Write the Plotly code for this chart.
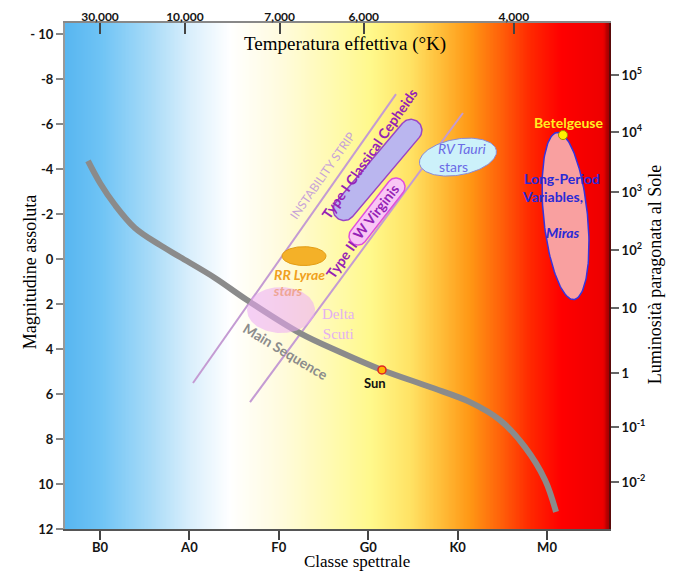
import numpy as np
import plotly.graph_objects as go

# ---------------- data ----------------
SPECTRAL_CLASSES = ["B0", "A0", "F0", "G0", "K0", "M0"]
SPECTRAL_POS = [0, 1, 2, 3, 4, 5]

TEMP_LABELS = ["30,000", "10,000", "7,000", "6,000", "4,000"]
TEMP_POS = [0.0, 0.95, 2.01, 2.95, 4.63]

MAG_TICKS = [-10, -8, -6, -4, -2, 0, 2, 4, 6, 8, 10, 12]
MAG_LABELS = ["- 10", "-8", "-6", "-4", "-2", "0", "2", "4", "6", "8", "10", "12"]

LUM_LABELS = ["10<sup>5</sup>", "10<sup>4</sup>", "10<sup>3</sup>", "10<sup>2</sup>",
              "10", "1", "10<sup>-1</sup>", "10<sup>-2</sup>"]
LUM_MAG = [-8.18, -5.64, -2.98, -0.40, 2.18, 5.07, 7.47, 9.91]

# main sequence (spectral position, absolute magnitude)
MS_SPEC = [-0.134, 0.0, 0.168, 0.391, 0.671, 0.895, 1.286, 1.644, 2.237, 2.685,
           3.154, 3.691, 4.139, 4.474, 4.754, 4.978, 5.101]
MS_MAG = [-4.36, -3.38, -2.40, -1.38, -0.62, -0.09, 0.84, 1.82, 3.29, 4.13,
          4.93, 5.69, 6.36, 7.16, 8.36, 9.82, 11.24]

# instability strip edges
STRIP_LEFT_SPEC = [1.040, 3.311]
STRIP_LEFT_MAG = [5.51, -7.33]
STRIP_RIGHT_SPEC = [1.678, 4.060]
STRIP_RIGHT_MAG = [6.36, -6.49]

# stars
SUN = (3.154, 4.93)
BETELGEUSE = (5.179, -5.51)

# regions: ellipses (centre spec, centre mag, half-width spec, half-height mag)
RRLYR = (2.282, -0.13, 0.246, 0.42)
DSCT = (2.025, 2.27, 0.380, 1.02)
RVTAU = (4.004, -4.53, 0.436, 0.80)
LPV = (5.207, -1.91, 0.246, 3.73)
# capsules (end points spec/mag)
CEPH_SPEC = [2.730, 3.478]
CEPH_MAG = [-2.20, -5.72]
WVIR_SPEC = [2.886, 3.311]
WVIR_MAG = [-1.02, -3.20]

# labels
LABEL_TEXT = ["INSTABILITY STRIP", "Type I Classical Cepheids", "Type II", "W Virginis",
              "RR Lyrae", "Delta<br>Scuti", "Main Sequence", "Sun", "RV Tauri", "stars",
              "Betelgeuse", "Long-Period", "Variables,", "Miras"]
LABEL_SPEC = [2.489, 3.015, 2.696, 3.087, 2.226, 2.673, 2.081, 3.076, 4.060, 3.949,
              5.235, 5.168, 5.056, 5.179]
LABEL_MAG = [-3.71, -4.68, 0.00, -2.09, 0.71, 2.89, 4.09, 5.51, -4.89, -4.09,
             -6.09, -3.56, -2.76, -1.16]
RR_STARS = ("stars", 2.103, 1.51)

# background colour stops along spectral axis
BG_V = [-0.3915, 0.0, 0.56, 1.01, 1.45, 2.01, 2.57, 3.02, 3.47, 3.80, 4.14, 4.47, 4.81, 5.15, 5.62, 5.6935]
BG_COL = ["rgb(88,182,240)", "rgb(110,195,245)", "rgb(168,219,248)", "rgb(218,239,252)",
          "rgb(255,255,255)", "rgb(255,251,222)", "rgb(255,250,178)", "rgb(255,249,140)",
          "rgb(255,226,100)", "rgb(255,190,58)", "rgb(255,150,20)", "rgb(255,98,10)",
          "rgb(255,40,0)", "rgb(255,0,0)", "rgb(238,0,0)", "rgb(150,0,0)"]

# ---------------- layout constants ----------------
# (page body adds an 8 px margin before the figure)
W, H = 666, 566
ML, MR, MT, MB = 57, 65, 15, 45
X_RANGE = [-0.3915, 5.6935]
Y_RANGE = [12.0, -10.49]
PW, PH = W - ML - MR, H - MT - MB
SX = PW / (X_RANGE[1] - X_RANGE[0])
SY = PH / (Y_RANGE[0] - Y_RANGE[1])

FONT = "Lato, 'Open Sans', sans-serif"
SERIF = "'Liberation Serif', 'DejaVu Serif', serif"


def ellipse(c, ang=0.0, n=140):
    cv, cm, av, bm = c
    t = np.linspace(0, 2 * np.pi, n)
    dx, dy = av * SX * np.cos(t), bm * SY * np.sin(t)
    th = np.radians(ang)
    X = dx * np.cos(th) + dy * np.sin(th)
    Y = -dx * np.sin(th) + dy * np.cos(th)
    return cv + X / SX, cm + Y / SY


def capsule(vs, ms, r):
    X1, Y1 = vs[0] * SX, ms[0] * SY
    X2, Y2 = vs[1] * SX, ms[1] * SY
    a = np.arctan2(Y2 - Y1, X2 - X1)
    t1 = np.linspace(a - np.pi / 2, a + np.pi / 2, 40)
    t2 = np.linspace(a + np.pi / 2, a + 3 * np.pi / 2, 40)
    X = np.concatenate([X2 + r * np.cos(t1), X1 + r * np.cos(t2), [X2 + r * np.cos(t1[0])]])
    Y = np.concatenate([Y2 + r * np.sin(t1), Y1 + r * np.sin(t2), [Y2 + r * np.sin(t1[0])]])
    return X / SX, Y / SY


fig = go.Figure()

# background gradient
bg_x = np.linspace(X_RANGE[0], X_RANGE[1], 400)
cscale = [[(v - BG_V[0]) / (BG_V[-1] - BG_V[0]), c] for v, c in zip(BG_V, BG_COL)]
fig.add_trace(go.Heatmap(x=bg_x, y=[Y_RANGE[1] - 0.5, Y_RANGE[0] + 0.5], z=[bg_x, bg_x],
                         colorscale=cscale, zmin=BG_V[0], zmax=BG_V[-1], showscale=False,
                         hoverinfo="skip", zsmooth="best"))

# instability strip
for xs, ys in [(STRIP_LEFT_SPEC, STRIP_LEFT_MAG), (STRIP_RIGHT_SPEC, STRIP_RIGHT_MAG)]:
    fig.add_trace(go.Scatter(x=xs, y=ys, mode="lines", line=dict(color="#c49bd3", width=2),
                             hoverinfo="skip", showlegend=False))

# main sequence
fig.add_trace(go.Scatter(x=MS_SPEC, y=MS_MAG, mode="lines", line=dict(color="#8b8b8b", width=6, shape="spline"),
                         hoverinfo="skip", showlegend=False))

# RR Lyrae
ex, ey = ellipse(RRLYR)
fig.add_trace(go.Scatter(x=ex, y=ey, mode="lines", fill="toself", fillcolor="#f4b128",
                         line=dict(color="#e39c12", width=1), hoverinfo="skip", showlegend=False))
fig.add_trace(go.Scatter(x=[RR_STARS[1]], y=[RR_STARS[2]], mode="text", text=[RR_STARS[0]],
                         textfont=dict(family=FONT, size=14, color="#f0a020", weight="bold", style="italic"),
                         hoverinfo="skip", showlegend=False))
# Delta Scuti (translucent)
ex, ey = ellipse(DSCT)
fig.add_trace(go.Scatter(x=ex, y=ey, mode="lines", fill="toself", fillcolor="rgba(236,170,246,0.55)",
                         line=dict(width=0), hoverinfo="skip", showlegend=False))

# Cepheid / W Virginis capsules
cx, cy = capsule(CEPH_SPEC, CEPH_MAG, 11)
fig.add_trace(go.Scatter(x=cx, y=cy, mode="lines", fill="toself", fillcolor="#bab6ef",
                         line=dict(color="#9a45c6", width=1.5), hoverinfo="skip", showlegend=False))
cx, cy = capsule(WVIR_SPEC, WVIR_MAG, 9)
fig.add_trace(go.Scatter(x=cx, y=cy, mode="lines", fill="toself", fillcolor="#f9c6f5",
                         line=dict(color="#e04ede", width=1.5), hoverinfo="skip", showlegend=False))

# RV Tauri
ex, ey = ellipse(RVTAU, 10)
fig.add_trace(go.Scatter(x=ex, y=ey, mode="lines", fill="toself", fillcolor="#ccf1fa",
                         line=dict(color="#8a8ad8", width=1), hoverinfo="skip", showlegend=False))

# Long period variables
ex, ey = ellipse(LPV, 5.8)
fig.add_trace(go.Scatter(x=ex, y=ey, mode="lines", fill="toself", fillcolor="#f9a0a0",
                         line=dict(color="#3434e0", width=1.5), hoverinfo="skip", showlegend=False))

# Sun & Betelgeuse
fig.add_trace(go.Scatter(x=[SUN[0]], y=[SUN[1]], mode="markers",
                         marker=dict(size=8, color="#ffb400", line=dict(color="#e02424", width=1.5)),
                         hoverinfo="skip", showlegend=False))
fig.add_trace(go.Scatter(x=[BETELGEUSE[0]], y=[BETELGEUSE[1]], mode="markers",
                         marker=dict(size=9, color="#fff200", line=dict(color="#a09000", width=1)),
                         hoverinfo="skip", showlegend=False))

# invisible trace for secondary axes
fig.add_trace(go.Scatter(x=[X_RANGE[0]], y=[0], xaxis="x2", yaxis="y2", mode="markers",
                         marker=dict(opacity=0), hoverinfo="skip", showlegend=False))

# labels
LABEL_STYLE = [
    dict(angle=-55, color="#c7a2d8", size=12, weight="normal", style="normal", family=FONT),
    dict(angle=-55, color="#9522b5", size=14, weight="bold", style="normal", family=FONT),
    dict(angle=-55, color="#9522b5", size=14, weight="bold", style="normal", family=FONT),
    dict(angle=-52, color="#9522b5", size=14, weight="bold", style="normal", family=FONT),
    dict(angle=0, color="#f0a020", size=14, weight="bold", style="italic", family=FONT),
    dict(angle=0, color="#e4b0f2", size=15, weight="normal", style="normal", family=SERIF),
    dict(angle=31, color="#8c8c8c", size=14, weight="bold", style="normal", family=FONT),
    dict(angle=0, color="#111111", size=13, weight="bold", style="normal", family=FONT),
    dict(angle=0, color="#6b6be6", size=14, weight="normal", style="italic", family=FONT),
    dict(angle=0, color="#6b6be6", size=14, weight="normal", style="normal", family=FONT),
    dict(angle=0, color="#ffee22", size=14, weight="bold", style="normal", family=FONT),
    dict(angle=0, color="#2a2ad6", size=14, weight="bold", style="normal", family=FONT),
    dict(angle=0, color="#2a2ad6", size=14, weight="bold", style="normal", family=FONT),
    dict(angle=0, color="#2a2ad6", size=14, weight="bold", style="italic", family=FONT),
]
annotations = []
for txt, xv, yv, st in zip(LABEL_TEXT, LABEL_SPEC, LABEL_MAG, LABEL_STYLE):
    annotations.append(dict(x=xv, y=yv, xref="x", yref="y", text=txt, showarrow=False,
                            xanchor="center", yanchor="middle", textangle=st["angle"],
                            font=dict(family=st["family"], size=st["size"], color=st["color"],
                                      weight=st["weight"], style=st["style"])))

# axis titles
title_common = dict(xref="paper", yref="paper", showarrow=False, xanchor="center", yanchor="middle")
annotations += [
    dict(x=0.515, y=0.958, text="Temperatura effettiva (°K)",
         font=dict(family=SERIF, size=19, color="#000"), **title_common),
    dict(x=0.537, y=-0.065, text="Classe spettrale",
         font=dict(family=SERIF, size=17, color="#000"), **title_common),
    dict(x=-0.064, y=0.508, text="Magnitudine assoluta", textangle=-90,
         font=dict(family=SERIF, size=18, color="#000"), **title_common),
    dict(x=1.085, y=0.502, text="Luminosità paragonata al Sole", textangle=-90,
         font=dict(family=SERIF, size=18, color="#000"), **title_common),
]

tickfont = dict(family=FONT, size=13, color="#141414", weight="bold")
fig.update_layout(
    width=W, height=H, margin=dict(l=ML, r=MR, t=MT, b=MB, autoexpand=False),
    paper_bgcolor="white", plot_bgcolor="white", showlegend=False,
    annotations=annotations,
    xaxis=dict(range=X_RANGE, tickvals=SPECTRAL_POS, ticktext=SPECTRAL_CLASSES, ticks="outside",
               ticklen=9, tickwidth=1.5, tickcolor="#444", showline=True, linecolor="#555", linewidth=1.5,
               showgrid=False, zeroline=False, tickfont=tickfont, automargin=False,
               ticklabelstandoff=-3),
    xaxis2=dict(range=X_RANGE, overlaying="x", side="top", tickvals=TEMP_POS, ticktext=TEMP_LABELS,
                ticks="inside", ticklen=11, tickwidth=1.5, tickcolor="#444", showline=True,
                linecolor="#888", linewidth=1.5, showgrid=False, zeroline=False, automargin=False,
                ticklabelstandoff=-5,
                tickfont=dict(family=FONT, size=12, color="#141414", weight="bold")),
    yaxis=dict(range=Y_RANGE, tickvals=MAG_TICKS, ticktext=MAG_LABELS, ticks="outside", ticklen=7,
               tickwidth=1.5, tickcolor="#888", showline=True, linecolor="#999", linewidth=2,
               showgrid=False, zeroline=False, tickfont=tickfont, automargin=False),
    yaxis2=dict(range=Y_RANGE, overlaying="y", side="right", tickvals=LUM_MAG, ticktext=LUM_LABELS,
                ticks="outside", ticklen=8, tickwidth=1.5, tickcolor="#666", showline=True,
                linecolor="#5a0a0a", linewidth=2, showgrid=False, zeroline=False, tickfont=tickfont,
                automargin=False),
)

fig.write_html("out.html")
